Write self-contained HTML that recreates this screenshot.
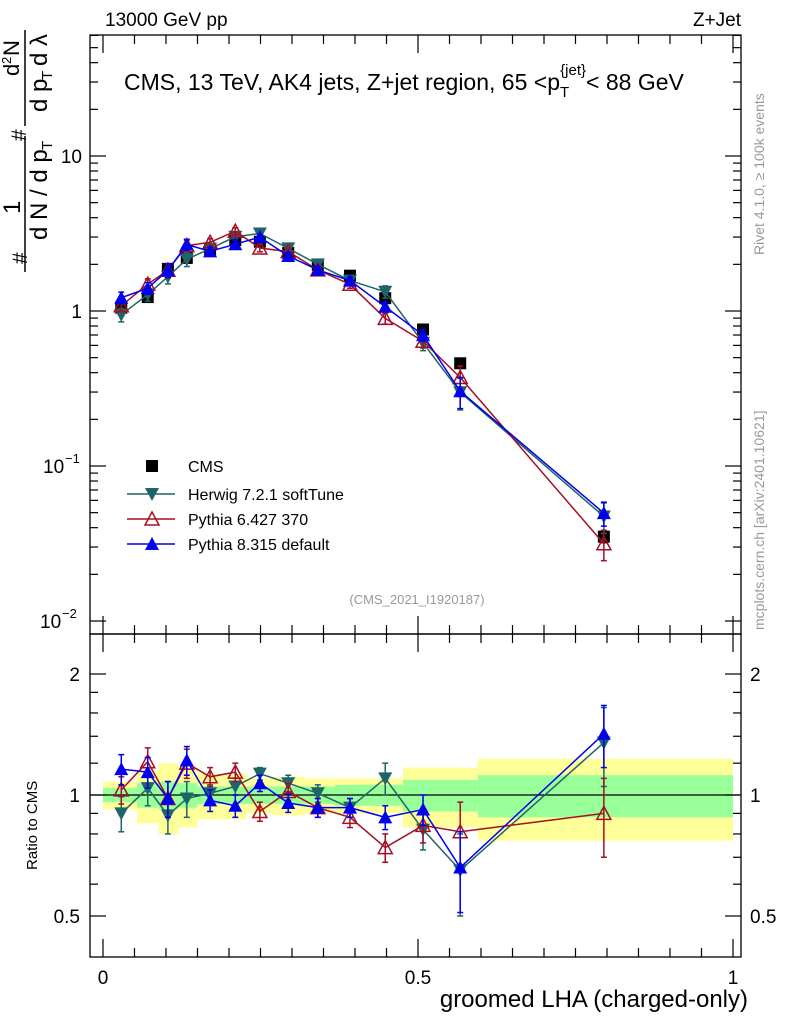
<!DOCTYPE html>
<html><head><meta charset="utf-8"><style>
body{margin:0;background:#fff;}
svg{display:block;font-family:"Liberation Sans",sans-serif;}
</style></head><body>
<svg id="c" width="786" height="1024" xmlns="http://www.w3.org/2000/svg">
<g id="bands"></g>
<g id="frames"></g>
<g id="series"></g>
<g>
<text x="105" y="26" font-size="19">13000 GeV pp</text>
<text x="741" y="26" font-size="19" text-anchor="end">Z+Jet</text>
<text x="124" y="90" font-size="23">CMS, 13 TeV, AK4 jets, Z+jet region, 65 &lt;p<tspan font-size="15" dy="7">T</tspan><tspan font-size="15" dx="-9" dy="-22">{jet}</tspan><tspan dy="15">&lt; 88 GeV</tspan></text>
<text x="417" y="604" font-size="13" fill="#999" text-anchor="middle">(CMS_2021_I1920187)</text>
<text transform="translate(764,255) rotate(-90)" font-size="14" fill="#999">Rivet 4.1.0, ≥ 100k events</text>
<text transform="translate(764,630) rotate(-90)" font-size="14" fill="#999">mcplots.cern.ch [arXiv:2401.10621]</text>
<text x="748" y="1007" font-size="24" text-anchor="end">groomed LHA (charged-only)</text>
<text transform="translate(37,870) rotate(-90)" font-size="15">Ratio to CMS</text>
<g transform="rotate(-90)" font-size="24">
<text x="-264" y="27" font-size="21">#</text>
<text x="-240" y="47">d N / d p</text><text x="-150" y="52" font-size="15">T</text>
<text x="-214" y="20">1</text>
<line x1="-272" y1="25" x2="-136" y2="25" stroke="#000" stroke-width="1.5"/>
<text x="-141" y="26" font-size="21">#</text>
<text x="-112" y="47">d p</text><text x="-80" y="52" font-size="15">T</text><text x="-66" y="47">d λ</text>
<text x="-76" y="19" font-size="22">d</text><text x="-64" y="11" font-size="13">2</text><text x="-56" y="19" font-size="22">N</text>
<line x1="-126" y1="25" x2="-30" y2="25" stroke="#000" stroke-width="1.5"/>
</g>
</g>
<g id="legend"></g>
</svg>
<script>
const xs=[0.029,0.071,0.103,0.133,0.170,0.210,0.249,0.294,0.341,0.392,0.448,0.508,0.567,0.795];
const cms=[1.05,1.23,1.87,2.2,2.5,2.87,2.8,2.37,1.98,1.69,1.21,0.76,0.46,0.035];
const cmsErr=[0.04,0.05,0.07,0.07,0.07,0.08,0.08,0.07,0.06,0.06,0.05,0.04,0.03,0.003];
const herwigRatio=[0.90,1.04,0.89,0.98,1.01,1.05,1.13,1.07,1.01,0.93,1.10,0.82,0.65,1.35];
const herwigErr=[0.09,0.1,0.09,0.1,0.05,0.05,0.04,0.05,0.05,0.05,0.1,0.09,0.15,0.3];
const p6Ratio=[1.03,1.21,0.98,1.20,1.11,1.14,0.91,1.02,0.93,0.88,0.74,0.84,0.81,0.90];
const p6Err=[0.08,0.1,0.1,0.1,0.06,0.06,0.05,0.05,0.05,0.05,0.06,0.08,0.15,0.2];
const p8Ratio=[1.16,1.14,0.98,1.22,0.97,0.94,1.07,0.955,0.93,0.93,0.88,0.92,0.66,1.42];
const p8Err=[0.1,0.1,0.1,0.1,0.06,0.06,0.05,0.05,0.05,0.05,0.06,0.08,0.15,0.25];
const binEdges=[0,0.054,0.088,0.12,0.15,0.19,0.228,0.268,0.32,0.368,0.476,0.538,0.595,1.0];
const bandYellow=[0.08,0.15,0.2,0.17,0.13,0.13,0.1,0.11,0.1,0.1,0.17,0.17,0.23];
const bandGreen=[0.04,0.07,0.08,0.07,0.05,0.05,0.05,0.05,0.05,0.06,0.09,0.09,0.12];

const NS="http://www.w3.org/2000/svg";
const X=v=>103+v*630;
const Y=v=>311-Math.log10(v)*155;
const R=v=>795-Math.log2(v)*121;
function mk(p,t,a){const e=document.createElementNS(NS,t);for(const k in a)e.setAttribute(k,a[k]);p.appendChild(e);return e;}
const F=document.getElementById('frames'),S=document.getElementById('series'),B=document.getElementById('bands'),L=document.getElementById('legend');

for(let i=0;i<bandYellow.length;i++){
 const x0=X(binEdges[i]),x1=X(binEdges[i+1]);
 const y=mk(B,'rect',{x:x0,y:R(1+bandYellow[i]),width:x1-x0,height:R(1-bandYellow[i])-R(1+bandYellow[i]),fill:'#ffff99'});
 
 const g=mk(B,'rect',{x:x0,y:R(1+bandGreen[i]),width:x1-x0,height:R(1-bandGreen[i])-R(1+bandGreen[i]),fill:'#99ff99'});
 
}
const st={fill:'none',stroke:'#000','stroke-width':1.3};
mk(F,'rect',Object.assign({x:90,y:35,width:651,height:599},st));
mk(F,'rect',Object.assign({x:90,y:634,width:651,height:323},st));
mk(F,'line',{x1:90,x2:741,y1:795,y2:795,stroke:'#000','stroke-width':1.3});
function tick(x1,y1,x2,y2){mk(F,'line',{x1,y1,x2,y2,stroke:'#000','stroke-width':1.2});}
for(let d=-2;d<=1;d++){for(let m=1;m<=9;m++){const v=m*Math.pow(10,d);const y=Y(v);if(y<35||y>634)continue;const l=m==1?16:8;tick(90,y,90+l,y);tick(741,y,741-l,y);}}
[[10,'10'],[1,'1']].forEach(t=>{const e=mk(F,'text',{x:82,y:Y(t[0])+7,'font-size':19,'text-anchor':'end'});e.textContent=t[1];
 });
[[0.1,'−1',43],[0.01,'−2',40]].forEach(t=>{const e=mk(F,'text',{x:t[2],y:Y(t[0])+7,'font-size':19});e.textContent='10';
 
 const s=mk(F,'text',{x:t[2]+22,y:Y(t[0])-3,'font-size':13});s.textContent=t[1];});
[0.5,0.6,0.7,0.8,0.9,1,1.2,1.4,1.6,1.8,2].forEach(v=>{const y=R(v);const l=(v==0.5||v==1||v==2)?16:8;tick(90,y,90+l,y);tick(741,y,741-l,y);});
[[2,'2'],[1,'1'],[0.5,'0.5']].forEach(t=>{let e=mk(F,'text',{x:80,y:R(t[0])+7,'font-size':19,'text-anchor':'end'});e.textContent=t[1];
 
 e=mk(F,'text',{x:750,y:R(t[0])+7,'font-size':19});e.textContent=t[1];});
for(let i=0;i<=20;i++){const v=i*0.05;const x=X(v);const l=i%10==0?18:9;tick(x,634,x,634-l);tick(x,35,x,35+l);tick(x,957,x,957-l);tick(x,634,x,634+l);}
[[0,'0'],[0.5,'0.5'],[1,'1']].forEach(t=>{const e=mk(F,'text',{x:X(t[0]),y:984,'font-size':19,'text-anchor':'middle'});e.textContent=t[1];
 });

function marker(g,type,x,y,c){
 if(type=='sq')mk(g,'rect',{x:x-6,y:y-6,width:12,height:12,fill:c});
 else if(type=='down')mk(g,'polygon',{points:`${x-7},${y-6} ${x+7},${y-6} ${x},${y+7}`,fill:c});
 else if(type=='up')mk(g,'polygon',{points:`${x-7},${y+6} ${x+7},${y+6} ${x},${y-7}`,fill:c});
 else if(type=='upo')mk(g,'polygon',{points:`${x-7},${y+6} ${x+7},${y+6} ${x},${y-7}`,fill:'none',stroke:c,'stroke-width':1.5});
}
function errbar(g,x,y1,y2,c){mk(g,'line',{x1:x,x2:x,y1,y2,stroke:c,'stroke-width':1.5});mk(g,'line',{x1:x-3,x2:x+3,y1,y2:y1,stroke:c,'stroke-width':1.5});mk(g,'line',{x1:x-3,x2:x+3,y1:y2,y2,stroke:c,'stroke-width':1.5});}

const models=[
 {name:'herwig',ratio:herwigRatio,err:herwigErr,c:'#1f6468',m:'down'},
 {name:'pythia6',ratio:p6Ratio,err:p6Err,c:'#a50f25',m:'upo'},
 {name:'pythia8',ratio:p8Ratio,err:p8Err,c:'#0000ee',m:'up'}];
const gc=mk(S,'g',{});

xs.forEach((x,i)=>{errbar(gc,X(x),Y(cms[i]-cmsErr[i]),Y(cms[i]+cmsErr[i]),'#000');marker(gc,'sq',X(x),Y(cms[i]),'#000');});
models.forEach(md=>{
 const g=mk(S,'g',{});
 
 const vals=xs.map((x,i)=>cms[i]*md.ratio[i]);
 mk(g,'polyline',{points:xs.map((x,i)=>X(x)+','+Y(vals[i])).join(' '),fill:'none',stroke:md.c,'stroke-width':1.5});
 mk(g,'polyline',{points:xs.map((x,i)=>X(x)+','+R(md.ratio[i])).join(' '),fill:'none',stroke:md.c,'stroke-width':1.5});
 xs.forEach((x,i)=>{
  const v=vals[i],e=md.err[i]*cms[i];
  errbar(g,X(x),Y(v-e),Y(v+e),md.c);marker(g,md.m,X(x),Y(v),md.c);
  errbar(g,X(x),R(md.ratio[i]-md.err[i]),R(md.ratio[i]+md.err[i]),md.c);marker(g,md.m,X(x),R(md.ratio[i]),md.c);
 });
});
const legItems=[['CMS','#000','sq',null],['Herwig 7.2.1 softTune','#1f6468','down',1],['Pythia 6.427 370','#a50f25','upo',1],['Pythia 8.315 default','#0000ee','up',1]];
legItems.forEach((it,i)=>{
 const y=[466,494,519,544][i];
 const g=mk(L,'g',{});
 
 if(it[3])mk(g,'line',{x1:127,x2:175,y1:y,y2:y,stroke:it[1],'stroke-width':1.5});
 marker(g,it[2],152,y,it[1]);
 const t=mk(g,'text',{x:188,y:y+6,'font-size':16});t.textContent=it[0];
});
</script>
</body></html>
